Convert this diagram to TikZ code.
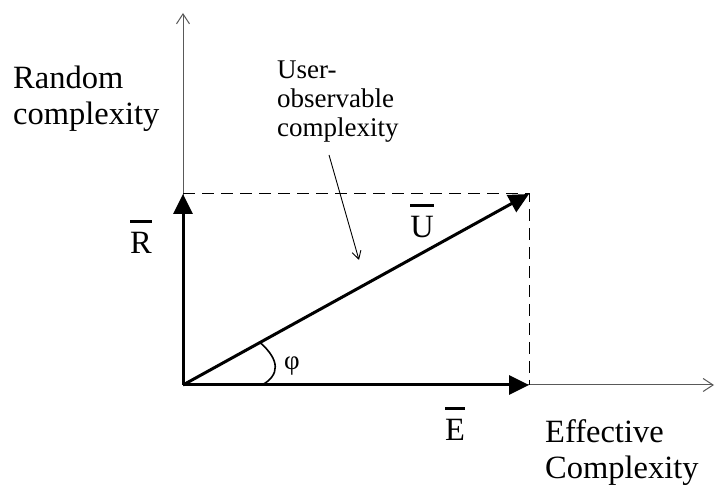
\documentclass[tikz,border=0pt]{standalone}
\usepackage{fontspec}
\setmainfont{Liberation Serif}
\usetikzlibrary{arrows.meta}
\newsavebox\vbarbox
\newcommand\vbar[1]{\sbox\vbarbox{#1}\rlap{\rule[0.95em]{\wd\vbarbox}{3pt}}\usebox\vbarbox}

\begin{document}
\begin{tikzpicture}[x=1pt,y=1pt,
  axis/.style={draw=black!65,line width=1pt,-{Straight Barb[length=10pt,width=13pt]}},
  vec/.style={line width=3pt,-{Triangle[length=20pt,width=19pt]}},
  guide/.style={line width=1pt,dash pattern=on 12pt off 7pt},
  pointer/.style={line width=0.9pt,-{Straight Barb[length=8pt,width=9pt]}},
  bigtxt/.style={font=\fontsize{32.5}{36}\selectfont,inner sep=0pt,align=left},
  smalltxt/.style={font=\fontsize{27}{29}\selectfont,inner sep=0pt,align=left}]
\useasboundingbox (0,0) rectangle (715,489);
\coordinate (O) at (183,104);
\coordinate (ytip) at (183,476);
\coordinate (xtip) at (714,104);
\coordinate (R) at (183,295);
\coordinate (E) at (529,104);
\coordinate (U) at (529,295);
% axes
\draw[axis] (O) -- (ytip);
\draw[axis] (O) -- (xtip);
% projection lines
\draw[guide] (R) -- (U) -- (E);
% vectors
\draw[vec] (O) -- (R);
\draw[vec] (O) -- (E);
\draw[vec] (O) -- (U);
% angle
\coordinate (phiE) at (262,104);
\coordinate (phiU) at (260,146.5);
\draw[line width=1.6pt] (phiE) .. controls (280,114) and (280,129) .. (phiU);
\node[smalltxt] (phi) at (292,123) {φ};
% labels (base = last line)
\node[bigtxt,anchor=base west] (rc) at (13,364) {Random\\complexity};
\node[bigtxt,anchor=base west] (ec) at (545,10) {Effective\\Complexity};
\node[smalltxt,anchor=base west] (uoc) at (277,352) {User-\\observable\\complexity};
\node[bigtxt,anchor=base] (Rl) at (141,235) {\vbar{R}};
\node[bigtxt,anchor=base] (Ul) at (422,251) {\vbar{U}};
\node[bigtxt,anchor=base] (El) at (455,48) {\vbar{E}};
% pointer to U
\coordinate (ptail) at (329,334);
\coordinate (phead) at (359,229);
\draw[pointer] (ptail) -- (phead);
\end{tikzpicture}
\end{document}
